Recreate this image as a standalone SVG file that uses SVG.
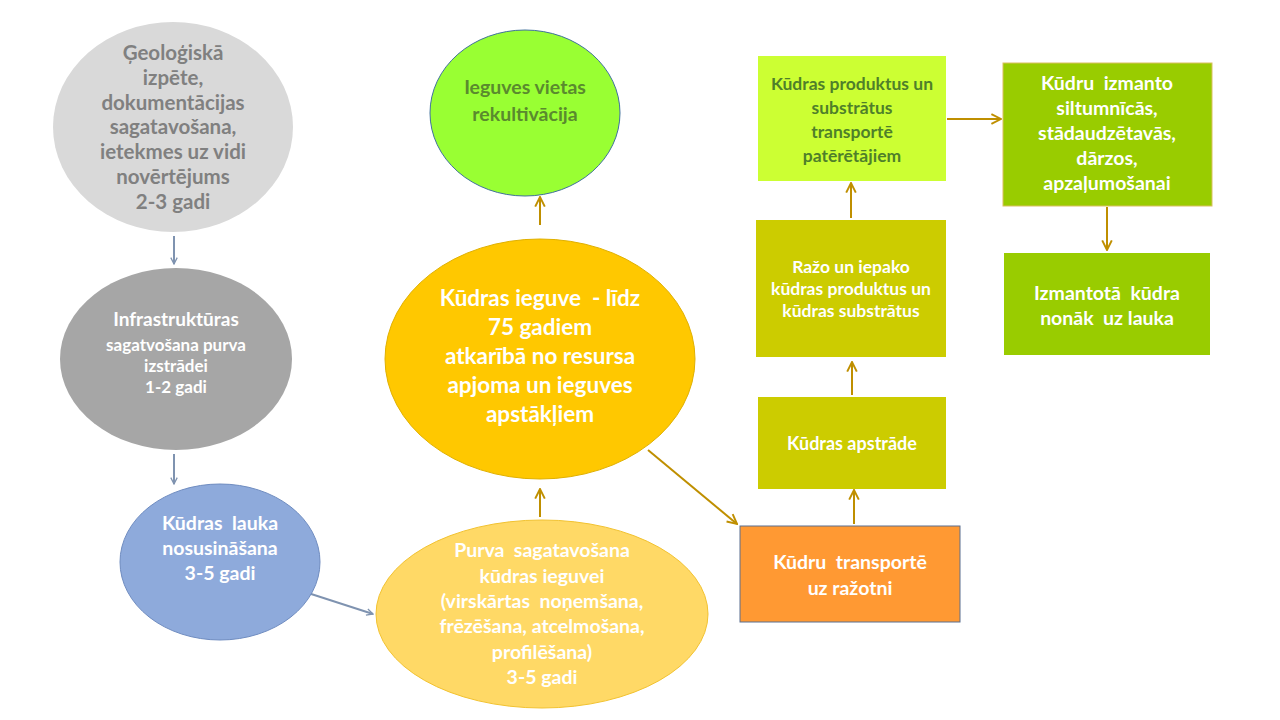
<svg xmlns="http://www.w3.org/2000/svg" width="1280" height="720" viewBox="0 0 1280 720">
<defs>
<marker id="ab" viewBox="0 0 10 10" refX="9" refY="5" markerWidth="8" markerHeight="8" orient="auto" markerUnits="userSpaceOnUse">
<path d="M1,1 L9,5 L1,9" fill="none" stroke="#7f93b0" stroke-width="1.6"/>
</marker>
<marker id="ag" viewBox="0 0 10 10" refX="9" refY="5" markerWidth="12" markerHeight="12" orient="auto" markerUnits="userSpaceOnUse">
<path d="M1,1 L9,5 L1,9" fill="none" stroke="#bf8f00" stroke-width="1.6"/>
</marker>
<style>
text{font-family:Lato,"Open Sans","Liberation Sans",sans-serif;font-weight:bold;text-anchor:middle;white-space:pre}
.w{fill:#ffffff}
.cb{stroke:#7f93b0;stroke-width:2;fill:none}
.cg{stroke:#bf8f00;stroke-width:2;fill:none}
</style>
</defs>
<rect width="1280" height="720" fill="#ffffff"/>
<g id="connectors">
<line class="cb" x1="174" y1="236" x2="174" y2="264" marker-end="url(#ab)"/>
<line class="cb" x1="174" y1="454" x2="174" y2="484" marker-end="url(#ab)"/>
<line class="cb" x1="305" y1="592" x2="373" y2="614" marker-end="url(#ab)"/>
<line class="cg" x1="540" y1="517" x2="540" y2="489" marker-end="url(#ag)"/>
<line class="cg" x1="540" y1="225" x2="540" y2="197" marker-end="url(#ag)"/>
<line class="cg" x1="648" y1="450" x2="737" y2="524" marker-end="url(#ag)"/>
<line class="cg" x1="854" y1="524" x2="854" y2="490" marker-end="url(#ag)"/>
<line class="cg" x1="852" y1="395" x2="852" y2="362" marker-end="url(#ag)"/>
<line class="cg" x1="851" y1="218" x2="851" y2="183" marker-end="url(#ag)"/>
<line class="cg" x1="947" y1="119" x2="1001" y2="119" marker-end="url(#ag)"/>
<line class="cg" x1="1107" y1="207" x2="1107" y2="250" marker-end="url(#ag)"/>
</g>
<g id="n1">
<ellipse cx="173" cy="127" rx="120" ry="105" fill="#d9d9d9"/>
<g fill="#808080" font-size="20.5">
<text x="173" y="60">Ģeoloģiskā</text>
<text x="173" y="85">izpēte,</text>
<text x="173" y="110">dokumentācijas</text>
<text x="173" y="134">sagatavošana,</text>
<text x="173" y="159">ietekmes uz vidi</text>
<text x="173" y="184">novērtējums</text>
<text x="173" y="209">2-3 gadi</text>
</g>
</g>
<g id="n2">
<ellipse cx="176" cy="359" rx="116" ry="91" fill="#a6a6a6"/>
<text class="w" x="176" y="326" font-size="19">Infrastruktūras</text>
<text class="w" x="176" y="351" font-size="17">sagatvošana purva</text>
<text class="w" x="176" y="372" font-size="17">izstrādei</text>
<text class="w" x="176" y="393" font-size="17">1-2 gadi</text>
</g>
<g id="n3">
<ellipse cx="220" cy="562" rx="100" ry="78" fill="#8eaadb" stroke="#6f8cc0" stroke-width="1"/>
<g class="w" font-size="19.5">
<text x="220" y="530">Kūdras  lauka</text>
<text x="220" y="555">nosusināšana</text>
<text x="220" y="580">3-5 gadi</text>
</g>
</g>
<g id="n4">
<ellipse cx="542" cy="614" rx="166" ry="94" fill="#ffd966" stroke="#f2c230" stroke-width="1"/>
<g class="w" font-size="19.5">
<text x="542" y="557">Purva  sagatavošana</text>
<text x="542" y="583">kūdras ieguvei</text>
<text x="542" y="608">(virskārtas  noņemšana,</text>
<text x="542" y="633">frēzēšana, atcelmošana,</text>
<text x="542" y="659">profilēšana)</text>
<text x="542" y="684">3-5 gadi</text>
</g>
</g>
<g id="n5">
<ellipse cx="540" cy="359" rx="155" ry="120" fill="#ffc800" stroke="#e0b000" stroke-width="1"/>
<g class="w" font-size="22.5">
<text x="540" y="306">Kūdras ieguve  - līdz</text>
<text x="540" y="335">75 gadiem</text>
<text x="540" y="364">atkarībā no resursa</text>
<text x="540" y="393">apjoma un ieguves</text>
<text x="540" y="422">apstākļiem</text>
</g>
</g>
<g id="n6">
<ellipse cx="525" cy="113" rx="95" ry="83" fill="#99ff33" stroke="#41719c" stroke-width="1"/>
<text x="525" y="94" font-size="19.5" fill="#5a8a2e">Ieguves vietas</text>
<text x="525" y="121" font-size="19.5" fill="#5a8a2e">rekultivācija</text>
</g>
<g id="n7">
<rect x="740" y="526" width="220" height="96" fill="#ff9933" stroke="#5a6f8f" stroke-width="1"/>
<text class="w" x="850" y="569" font-size="19.5">Kūdru  transportē</text>
<text class="w" x="850" y="595" font-size="19.5">uz ražotni</text>
</g>
<g id="n8">
<rect x="758" y="397" width="188" height="92" fill="#cccc00"/>
<text class="w" x="852" y="450" font-size="18">Kūdras apstrāde</text>
</g>
<g id="n9">
<rect x="756" y="220" width="190" height="137" fill="#cccc00"/>
<text class="w" x="851" y="273" font-size="17.5">Ražo un iepako</text>
<text class="w" x="851" y="295" font-size="17.5">kūdras produktus un</text>
<text class="w" x="851" y="317" font-size="17.5">kūdras substrātus</text>
</g>
<g id="n10">
<rect x="758" y="56" width="188" height="125" fill="#ccff33"/>
<g fill="#4f7f2a" font-size="17.5">
<text x="852" y="90">Kūdras produktus un</text>
<text x="852" y="114">substrātus</text>
<text x="852" y="138">transportē</text>
<text x="852" y="162">patērētājiem</text>
</g>
</g>
<g id="n11">
<rect x="1003" y="63" width="209" height="143" fill="#99cc00" stroke="#d9c060" stroke-width="1"/>
<g class="w" font-size="19.5">
<text x="1107" y="90">Kūdru  izmanto</text>
<text x="1107" y="115">siltumnīcās,</text>
<text x="1107" y="140">stādaudzētavās,</text>
<text x="1107" y="165">dārzos,</text>
<text x="1107" y="190">apzaļumošanai</text>
</g>
</g>
<g id="n12">
<rect x="1004" y="253" width="206" height="102" fill="#99cc00"/>
<text class="w" x="1107" y="300" font-size="19.5">Izmantotā  kūdra</text>
<text class="w" x="1107" y="325" font-size="19.5">nonāk  uz lauka</text>
</g>
</svg>
